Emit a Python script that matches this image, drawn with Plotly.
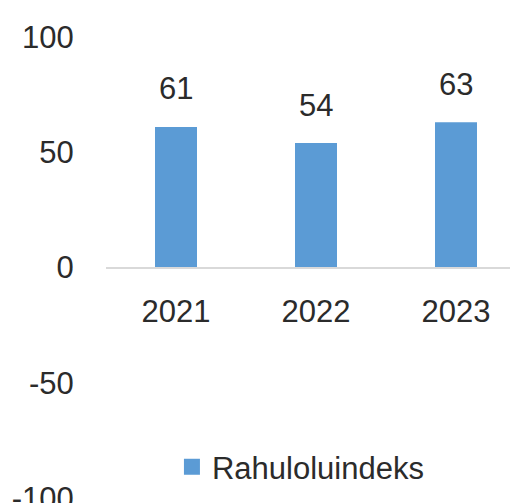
import plotly.graph_objects as go

categories = ["2021", "2022", "2023"]
values = [61, 54, 63]
series_name = "Rahuloluindeks"
y_ticks = [-100, -50, 0, 50, 100]
y_tick_labels = ["-100", "-50", "0", "50", "100"]

FONT = "Liberation Sans, Arial, sans-serif"
TXT = "#2b2b2b"
BLUE = "#5B9BD5"

fig = go.Figure()
fig.add_trace(go.Bar(
    x=categories, y=values, name=series_name,
    marker=dict(color=BLUE, line=dict(width=0)),
    width=0.3, showlegend=False,
))
# legend entry with a larger square swatch
fig.add_trace(go.Scatter(
    x=[None], y=[None], mode="markers", name=series_name,
    marker=dict(symbol="square", size=19, color=BLUE),
    showlegend=True, hoverinfo="skip",
))

for i, v in enumerate(values):
    fig.add_annotation(x=i, y=v, xref="x", yref="y", text=str(v), showarrow=False,
                       yanchor="middle", yshift=38,
                       font=dict(family=FONT, size=31, color=TXT))

fig.update_layout(
    width=518, height=503,
    margin=dict(l=98, r=0, t=29, b=13, autoexpand=False),
    paper_bgcolor="white", plot_bgcolor="white",
    font=dict(family=FONT, size=31, color=TXT),
    showlegend=True,
    legend=dict(orientation="h", x=0.157, y=0.067, xanchor="left", yanchor="middle",
                font=dict(family=FONT, size=31, color=TXT),
                bgcolor="rgba(0,0,0,0)", itemsizing="trace"),
    xaxis=dict(
        type="category", range=[-0.5, 2.5],
        anchor="free", position=0.5, automargin=False,
        showline=True, linecolor="#D9D9D9", linewidth=2,
        showgrid=False, zeroline=False,
        ticks="outside", ticklen=16, tickcolor="rgba(0,0,0,0)",
        tickfont=dict(family=FONT, size=31, color=TXT),
    ),
    yaxis=dict(
        range=[-100, 100], tickvals=y_ticks, ticktext=y_tick_labels,
        automargin=False, ticklabeloverflow="allow",
        showgrid=False, zeroline=False, showline=False,
        ticks="outside", ticklen=25, tickcolor="rgba(0,0,0,0)",
        tickfont=dict(family=FONT, size=31, color=TXT),
    ),
)

fig.write_html("out.html")
